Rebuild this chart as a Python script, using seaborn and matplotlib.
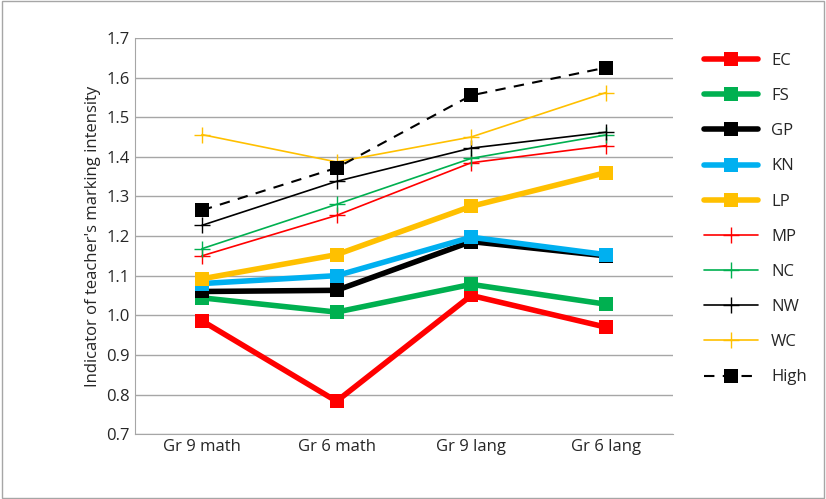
import pandas as pd
import matplotlib.pyplot as plt
import seaborn as sns

subjects = ["Gr 9 math", "Gr 6 math", "Gr 9 lang", "Gr 6 lang"]
EC = [0.986, 0.783, 1.05, 0.97]
FS = [1.044, 1.008, 1.078, 1.028]
GP = [1.06, 1.063, 1.186, 1.15]
KN = [1.08, 1.10, 1.197, 1.153]
LP = [1.092, 1.153, 1.275, 1.36]
MP = [1.15, 1.252, 1.385, 1.428]
NC = [1.168, 1.28, 1.396, 1.455]
NW = [1.227, 1.338, 1.422, 1.462]
WC = [1.456, 1.387, 1.45, 1.562]
High = [1.265, 1.372, 1.555, 1.625]

series = {"EC": EC, "FS": FS, "GP": GP, "KN": KN, "LP": LP,
          "MP": MP, "NC": NC, "NW": NW, "WC": WC, "High": High}
colors = {"EC": "#ff0000", "FS": "#00b050", "GP": "#000000", "KN": "#00b0f0",
          "LP": "#ffc000", "MP": "#ff0000", "NC": "#00b050", "NW": "#000000",
          "WC": "#ffc000", "High": "#000000"}

rows = []
for name, vals in series.items():
    for s, v in zip(subjects, vals):
        rows.append({"region": name, "subject": s, "value": v})
df = pd.DataFrame(rows)

sns.set_style("white")
plt.rcParams["font.family"] = ["Open Sans", "DejaVu Sans"]

fig = plt.figure(figsize=(8.26, 4.99), dpi=100)
ax = fig.add_axes([0.163, 0.13, 0.652, 0.794])

for name in series:
    d = df[df.region == name]
    c = colors[name]
    if name in ["EC", "FS", "GP", "KN", "LP"]:
        kw = dict(linewidth=4, marker="s", markersize=10, markeredgewidth=0)
    elif name == "High":
        kw = dict(linewidth=1.5, marker="s", markersize=10, markeredgewidth=0,
                  linestyle=(0, (5, 4)))
    else:
        kw = dict(linewidth=1.2, marker="+", markersize=11, markeredgewidth=1)
    sns.lineplot(data=d, x="subject", y="value", color=c, ax=ax, label=name,
                 sort=False, markeredgecolor=c, markerfacecolor=c, **kw)

ax.set_ylim(0.7, 1.7)
ax.set_xlim(-0.5, 3.5)
ax.set_yticks([0.7 + 0.1 * i for i in range(11)])
ax.set_yticklabels([f"{0.7 + 0.1 * i:.1f}" for i in range(11)])
ax.yaxis.grid(True, color="#a6a6a6", linewidth=1)
ax.set_xlabel("")
ax.set_ylabel("Indicator of teacher's marking intensity", fontsize=12)
ax.tick_params(labelsize=12, length=0)
for sp in ["top", "right"]:
    ax.spines[sp].set_visible(False)
for sp in ["left", "bottom"]:
    ax.spines[sp].set_color("#a6a6a6")

ax.legend(loc="upper left", bbox_to_anchor=(1.03, 1.0), frameon=False,
          fontsize=12, handlelength=3.2, labelspacing=1.15)
fig.patches.append(plt.Rectangle((0.002, 0.002), 0.996, 0.996, transform=fig.transFigure,
                                 fill=False, edgecolor="#a6a6a6", linewidth=1))
fig.savefig("out.png", dpi=100)
